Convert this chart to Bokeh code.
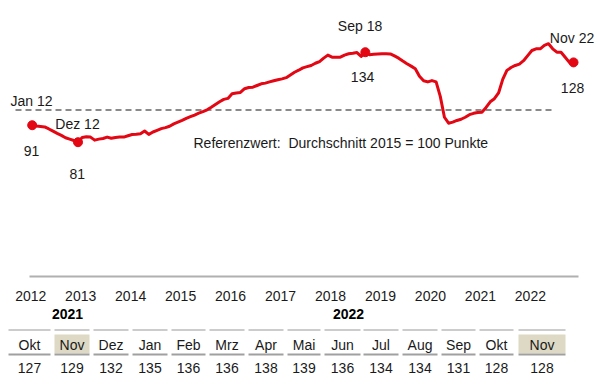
from bokeh.plotting import figure
from bokeh.models import Range1d
from bokeh.embed import file_html
from bokeh.resources import INLINE
from bokeh.core.properties import value

# ---------------- data ----------------
# monthly index values, Jan 2012 .. Nov 2022 (2015 = 100)
values = [
    91.0, 90.5, 90.3, 90.0, 88.8, 87.5, 86.2, 85.0, 83.6, 82.8, 82.0, 81.0,      # 2012
    83.8, 84.2, 84.0, 82.2, 82.8, 83.2, 84.0, 83.3, 83.8, 84.0, 84.0, 84.8,      # 2013
    85.5, 85.7, 86.0, 87.6, 85.6, 87.0, 88.0, 89.0, 89.6, 90.4, 91.8, 92.8,      # 2014
    93.8, 95.0, 96.0, 97.0, 98.1, 99.0, 100.1, 101.6, 103.2, 104.8, 106.2, 106.8,  # 2015
    109.5, 110.0, 110.3, 112.5, 113.2, 113.4, 114.4, 115.4, 115.8, 116.5, 117.2, 117.8,  # 2016
    118.3, 119.0, 120.6, 122.2, 123.4, 124.8, 125.5, 126.2, 127.5, 128.5, 130.5, 132.3,  # 2017
    131.1, 131.1, 131.1, 132.3, 133.1, 133.4, 133.8, 131.5, 134.0, 132.5, 132.8, 133.0,  # 2018
    133.1, 133.1, 133.0, 131.8, 130.5, 128.8, 127.2, 125.8, 124.2, 119.8, 117.2, 116.5,  # 2019
    117.3, 116.5, 108.0, 95.7, 92.2, 92.8, 93.8, 94.5, 95.7, 97.2, 98.0, 98.5,   # 2020
    98.7, 101.5, 104.8, 106.6, 110.0, 118.0, 123.3, 125.0, 126.2, 127.0, 129.0, 132.0,  # 2021
    135.0, 136.0, 136.0, 138.0, 139.0, 136.0, 134.0, 134.0, 131.0, 128.0, 128.0,  # 2022
]
years = ["2012", "2013", "2014", "2015", "2016", "2017", "2018", "2019", "2020", "2021", "2022"]
ref_value = 100
ref_label = "Referenzwert:\u00a0 Durchschnitt 2015 = 100 Punkte"
highlight_idx = [0, 11, 80, 130]
highlight_names = ["Jan 12", "Dez 12", "Sep 18", "Nov 22"]

table_years = ["2021", "2022"]
table_months = ["Okt", "Nov", "Dez", "Jan", "Feb", "Mrz", "Apr", "Mai", "Jun", "Jul", "Aug", "Sep", "Okt", "Nov"]
table_values = [127, 129, 132, 135, 136, 136, 138, 139, 136, 134, 134, 131, 128, 128]
table_highlight = [1, 13]

# ---------------- layout constants (page pixels) ----------------
W, H = 600, 384
OX, OY = 0, 0          # page offset of the canvas
PX_M = 4.164           # px per month
X0 = 31.7              # page x of first month
VY_REF, PY_REF, PX_V = 81.0, 141.7, 1.698   # value -> page y mapping

RED = "#e30613"
TXT = "#1a1a1a"
FONT = value("Liberation Sans")

p = figure(width=W, height=H, output_backend="svg", toolbar_location=None,
           x_axis_location=None, y_axis_location=None, min_border=0,
           x_range=Range1d((OX - X0) / PX_M, (OX + W - X0) / PX_M),
           y_range=Range1d(VY_REF - (OY + H - PY_REF) / PX_V, VY_REF + (PY_REF - OY) / PX_V))
p.grid.visible = False
p.outline_line_color = None
p.background_fill_color = "white"
p.border_fill_color = "white"
p.extra_x_ranges = {"px": Range1d(OX, OX + W)}
p.extra_y_ranges = {"py": Range1d(OY + H, OY)}

# reference dashed line
p.segment(x0=[15], x1=[555], y0=[ref_value], y1=[ref_value], x_range_name="px",
          line_color="#8a8a8a", line_width=2, line_dash="6 4")
p.text(x=[193], y=[142], text=[ref_label], x_range_name="px", y_range_name="py",
       text_font=FONT, text_font_size="14px", text_color=TXT,
       text_align="left", text_baseline="middle")

# main series
months = list(range(len(values)))
p.line(months, values, line_color=RED, line_width=3, line_join="round")
hx = [months[i] for i in highlight_idx]
hy = [values[i] for i in highlight_idx]
p.scatter(hx, hy, size=9, fill_color=RED, line_color=RED)

# point labels
name_dx = [-21.7, -22.7, -5.3, -1.5]
name_dy = [-24.6, -18.7, -26.7, -23.9]
name_align = ["left", "left", "center", "center"]
val_dx = [-0.7, -0.7, -2.8, -1.0]
val_dy = [25.4, 31.3, 24.3, 26.1]
for i in range(len(hx)):
    p.text(x=[hx[i]], y=[hy[i]], text=[highlight_names[i]], x_offset=name_dx[i], y_offset=name_dy[i],
           text_font=FONT, text_font_size="14px", text_color=TXT,
           text_align=name_align[i], text_baseline="middle")
    p.text(x=[hx[i]], y=[hy[i]], text=[str(int(round(hy[i])))], x_offset=val_dx[i], y_offset=val_dy[i],
           text_font=FONT, text_font_size="14px", text_color=TXT,
           text_align="center", text_baseline="middle")

# year axis
p.segment(x0=[29], x1=[578], y0=[276], y1=[276], x_range_name="px", y_range_name="py",
          line_color="#b0b0b0", line_width=2)
year_x = [12 * k for k in range(len(years))]
p.text(x=year_x, y=[295] * len(years), text=years, y_range_name="py", x_offset=-1.5,
       text_font=FONT, text_font_size="14px", text_color=TXT,
       text_align="center", text_baseline="middle")

# table
lefts = [8, 54, 93, 132, 171, 209, 248, 287, 324, 363, 402, 441, 479, 518]
rights = [50, 89, 128, 167, 205, 244, 283, 320, 360, 398, 437, 475, 513, 565]
centers = [(a + b) / 2 for a, b in zip(lefts, rights)]
p.quad(left=[lefts[i] for i in table_highlight], right=[rights[i] for i in table_highlight],
       top=[334] * len(table_highlight), bottom=[353] * len(table_highlight),
       x_range_name="px", y_range_name="py", fill_color="#ddd9c4", line_color=None)
p.segment(x0=lefts, x1=rights, y0=[329.5] * len(lefts), y1=[329.5] * len(lefts),
          x_range_name="px", y_range_name="py", line_color="#cccccc", line_width=2)
p.segment(x0=lefts, x1=rights, y0=[354] * len(lefts), y1=[354] * len(lefts),
          x_range_name="px", y_range_name="py", line_color="#a0a0a0", line_width=2)
p.text(x=[67, 348], y=[313, 313], text=table_years, x_range_name="px", y_range_name="py",
       text_font=FONT, text_font_size="14px", text_font_style="bold", text_color="black",
       text_align="center", text_baseline="middle")
p.text(x=centers, y=[344] * len(centers), text=table_months, x_range_name="px", y_range_name="py",
       text_font=FONT, text_font_size="14px", text_color=TXT,
       text_align="center", text_baseline="middle")
p.text(x=centers, y=[367] * len(centers), text=[str(v) for v in table_values],
       x_range_name="px", y_range_name="py",
       text_font=FONT, text_font_size="14px", text_color=TXT,
       text_align="center", text_baseline="middle")

open("out.html", "w").write(file_html(p, INLINE))
